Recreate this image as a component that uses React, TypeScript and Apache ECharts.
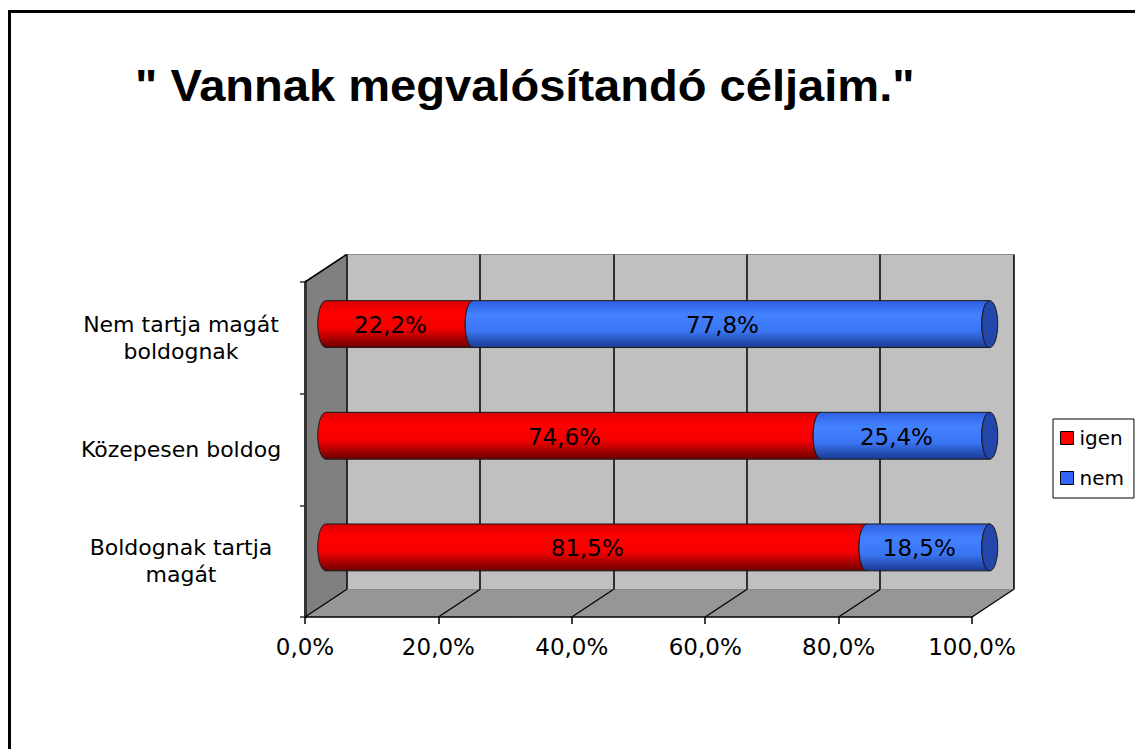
import React, { useEffect, useRef } from "react";
import * as echarts from "echarts";

const categories = ["Boldognak tartja\nmagát", "Közepesen boldog", "Nem tartja magát\nboldognak"];
const igenValues = [81.5, 74.6, 22.2];
const nemValues = [18.5, 25.4, 77.8];
const xTicks = [0, 20, 40, 60, 80, 100];
const titleText = '" Vannak megvalósítandó céljaim."';

// layout (3D box)
const FRONT_L = 305;
const FRONT_T = 282;
const FRONT_W = 667;
const FRONT_H = 335;
const DX = 41.5;
const DY = -27.5;
const FONT = "DejaVu Sans";

const fmt = (v: number) => v.toFixed(1).replace(".", ",") + "%";

function leftArc(cx: number, cy: number, rx: number, ry: number, reverse: boolean) {
  const pts: number[][] = [];
  const n = 14;
  for (let i = 0; i <= n; i++) {
    const t = (Math.PI * (reverse ? n - i : i)) / n;
    pts.push([cx - rx * Math.sin(t), cy - ry * Math.cos(t)]);
  }
  return pts;
}

function makeRender(isLast: boolean, stops: any[], capColor: string) {
  return (params: any, api: any) => {
    const start = api.value(0);
    const end = api.value(1);
    const cat = api.value(2);
    const p0 = api.coord([start, cat]);
    const p1 = api.coord([end, cat]);
    const h = api.size([0, 1])[1] * 0.42;
    const ry = h / 2;
    const rx = 8;
    const cy = p0[1];
    const top = cy - ry;
    const bottom = cy + ry;
    const x0 = p0[0];
    const x1 = p1[0];
    const pts = [[x0, top], [x1, top], ...leftArc(x1, cy, rx, ry, false), [x0, bottom], ...leftArc(x0, cy, rx, ry, true)];
    const children: any[] = [
      {
        type: "polygon",
        shape: { points: pts },
        style: {
          fill: new echarts.graphic.LinearGradient(0, 0, 0, 1, stops),
          stroke: "#1a1a1a",
          lineWidth: 1,
        },
      },
    ];
    if (isLast) {
      children.push({
        type: "ellipse",
        shape: { cx: x1, cy, rx, ry },
        style: { fill: capColor, stroke: "#1a1a1a", lineWidth: 1 },
      });
    }
    children.push({
      type: "text",
      style: {
        text: fmt(end - start),
        x: (x0 + x1) / 2 - 9,
        y: cy + 1,
        align: "center",
        verticalAlign: "middle",
        fill: "#000",
        fontSize: 23,
        fontFamily: FONT,
      },
    });
    return { type: "group", children };
  };
}

export default function App() {
  const ref = useRef<HTMLDivElement>(null);
  useEffect(() => {
    if (!ref.current) return;
    const chart = echarts.init(ref.current, null, { renderer: "svg" });

    const igenData = igenValues.map((v, i) => [0, v, i]);
    const nemData = nemValues.map((v, i) => [igenValues[i], igenValues[i] + v, i]);

    const redStops = [
      { offset: 0, color: "#d80000" },
      { offset: 0.25, color: "#ff0000" },
      { offset: 0.6, color: "#f40000" },
      { offset: 1, color: "#6a0000" },
    ];
    const blueStops = [
      { offset: 0, color: "#2f5fe0" },
      { offset: 0.3, color: "#4281ff" },
      { offset: 0.65, color: "#3a75f2" },
      { offset: 1, color: "#1a3890" },
    ];

    const option: any = {
      animation: false,
      backgroundColor: "#ffffff",
      legend: {
        data: ["igen", "nem"],
        orient: "vertical",
        left: 1053,
        top: 419,
        borderColor: "#000",
        borderWidth: 1,
        padding: [9, 10, 10, 7],
        itemWidth: 13,
        itemHeight: 13,
        itemGap: 20,
        icon: "rect",
        itemStyle: { borderColor: "#000", borderWidth: 1 },
        textStyle: { fontFamily: FONT, fontSize: 20, color: "#000", padding: [0, 0, 0, 1] },
      },
      grid: [
        { left: FRONT_L + DX / 2, top: FRONT_T + DY / 2, width: 664, height: FRONT_H },
        { left: FRONT_L, top: FRONT_T, width: FRONT_W, height: FRONT_H },
        {
          left: FRONT_L + DX,
          top: FRONT_T + DY,
          width: FRONT_W,
          height: FRONT_H,
          show: true,
          backgroundColor: "#c0c0c0",
          borderColor: "#8a8a8a",
          borderWidth: 1,
        },
      ],
      xAxis: [
        { gridIndex: 0, type: "value", min: 0, max: 100, show: false },
        {
          gridIndex: 1,
          type: "value",
          min: 0,
          max: 100,
          interval: 20,
          axisLine: { show: true, lineStyle: { color: "#000", width: 1.5 } },
          axisTick: { show: true, length: 7, lineStyle: { color: "#000", width: 1.5 } },
          splitLine: { show: false },
          axisLabel: {
            formatter: (v: number) => fmt(v),
            fontFamily: FONT,
            fontSize: 23,
            color: "#000",
            margin: 18,
          },
        },
        {
          gridIndex: 2,
          type: "value",
          min: 0,
          max: 100,
          interval: 20,
          axisLine: { show: false },
          axisTick: { show: false },
          axisLabel: { show: false },
          splitLine: { show: true, lineStyle: { color: "#000", width: 1.5 } },
        },
      ],
      yAxis: [
        { gridIndex: 0, type: "category", data: categories, show: false },
        {
          gridIndex: 1,
          type: "category",
          data: categories,
          axisLine: { show: true, lineStyle: { color: "#333", width: 3 } },
          axisTick: { show: true, length: 5, lineStyle: { color: "#333", width: 1.5 } },
          axisLabel: {
            fontFamily: FONT,
            fontSize: 22,
            color: "#000",
            align: "center",
            margin: 124,
            lineHeight: 27,
          },
        },
        { gridIndex: 2, type: "category", data: categories, show: false },
      ],
      graphic: [
        {
          type: "text",
          x: 135,
          y: 64,
          scaleX: 1.07,
          z: 10,
          style: {
            text: titleText,
            fontFamily: "Liberation Sans",
            fontWeight: "bold",
            fontSize: 44,
            fill: "#000",
          },
        },
        {
          type: "polygon",
          z: -1,
          shape: {
            points: [
              [FRONT_L, FRONT_T],
              [FRONT_L + DX, FRONT_T + DY],
              [FRONT_L + DX, FRONT_T + FRONT_H + DY],
              [FRONT_L, FRONT_T + FRONT_H],
            ],
          },
          style: { fill: "#808080" },
        },
        {
          type: "polygon",
          z: -1,
          shape: {
            points: [
              [FRONT_L, FRONT_T + FRONT_H],
              [FRONT_L + DX, FRONT_T + FRONT_H + DY],
              [FRONT_L + FRONT_W + DX, FRONT_T + FRONT_H + DY],
              [FRONT_L + FRONT_W, FRONT_T + FRONT_H],
            ],
          },
          style: { fill: "#969696" },
        },
        {
          type: "line",
          z: 1,
          shape: { x1: FRONT_L, y1: FRONT_T, x2: FRONT_L + DX, y2: FRONT_T + DY },
          style: { stroke: "#000", lineWidth: 1.5 },
        },
        {
          type: "rect",
          z: 10,
          shape: { x: 9.5, y: 11.5, width: 1300, height: 900 },
          style: { fill: "none", stroke: "#000", lineWidth: 3 },
        },
      ],
      series: [
        {
          type: "custom",
          name: "floor",
          xAxisIndex: 1,
          yAxisIndex: 1,
          silent: true,
          z: 1,
          data: xTicks.map((v) => [v]),
          encode: { x: 0 },
          renderItem: (params: any, api: any) => {
            const cs = params.coordSys;
            const x = api.coord([api.value(0), 0])[0];
            const y = cs.y + cs.height;
            return {
              type: "line",
              shape: { x1: x, y1: y, x2: x + DX, y2: y + DY },
              style: { stroke: "#000", lineWidth: 1.3 },
            };
          },
        },
        {
          type: "custom",
          name: "igen",
          xAxisIndex: 0,
          yAxisIndex: 0,
          z: 5,
          itemStyle: { color: "#ff0000" },
          data: igenData,
          encode: { x: [0, 1], y: 2 },
          renderItem: makeRender(false, redStops, "#cc0000"),
        },
        {
          type: "custom",
          name: "nem",
          xAxisIndex: 0,
          yAxisIndex: 0,
          z: 6,
          itemStyle: { color: "#3366ff" },
          data: nemData,
          encode: { x: [0, 1], y: 2 },
          renderItem: makeRender(true, blueStops, "#2446aa"),
        },
      ],
    };
    chart.setOption(option);
    return () => chart.dispose();
  }, []);
  return (
    <div
      ref={ref}
      style={{ position: "fixed", left: 0, top: 0, width: 1135, height: 749 }}
    />
  );
}
